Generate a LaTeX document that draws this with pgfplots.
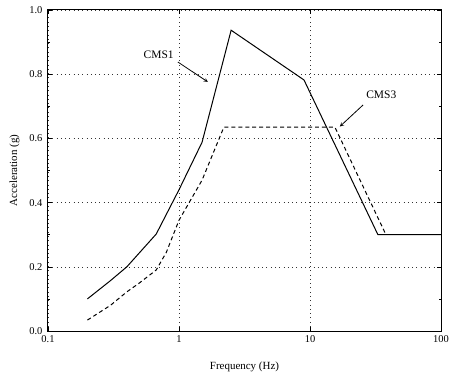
\documentclass[border=0pt]{standalone}
\usepackage{pgfplots}
\pgfplotsset{compat=1.18}
\usepackage{fontspec}
\setmainfont{Liberation Serif}
\begin{document}
\begin{tikzpicture}
\begin{axis}[
  name=ax,
  scale only axis,
  width=393bp, height=321bp,
  xmode=log, log basis x=10,
  xmin=0.1, xmax=100, ymin=0, ymax=1,
  xtick={0.1,1,10,100}, xticklabels={0.1,1,10,100},
  ytick={0,0.2,0.4,0.6,0.8,1.0},
  minor y tick num=1,
  yticklabel style={xshift=-2bp,/pgf/number format/.cd,fixed,fixed zerofill,precision=1},
  /pgf/number format/assume math mode=true,
  tick align=inside,
  major tick length=4bp, minor tick length=2.5bp,
  grid=major,
  major grid style={black!80, line width=0.5pt, dash pattern=on 0.8pt off 3.5pt},
  axis line style={line width=1pt},
  tick style={black, line width=0.6pt},
  ticklabel style={font=\fontsize{10.5}{12}\selectfont},
  label style={font=\fontsize{11}{13}\selectfont},
  xlabel={Frequency (Hz)},
  ylabel={Acceleration (g)},
  xlabel style={yshift=-12bp},
  ylabel style={yshift=3bp},
  xticklabel style={yshift=-1bp},
]
\addplot[black, line width=1pt] coordinates {
(0.2,0.1) (0.3,0.157) (0.4,0.2) (0.67,0.302) (1,0.44) (1.5,0.588) (2.5,0.937) (9,0.782) (33,0.3) (100,0.3)};
\addplot[black, line width=1pt, dash pattern=on 4pt off 3pt] coordinates {
(0.2,0.034) (0.3,0.08) (0.4,0.122) (0.5,0.15) (0.67,0.19) (0.8,0.245) (1,0.345) (1.5,0.47) (2.2,0.635) (15.5,0.635) (38,0.3)};
\node[font=\fontsize{11.5}{13}\selectfont] at (axis cs:0.7,0.86) {CMS1};
\draw[->, >=stealth, line width=0.8pt] (axis cs:0.98,0.838) -- (axis cs:1.66,0.776);
\node[font=\fontsize{11.5}{13}\selectfont] at (axis cs:35,0.735) {CMS3};
\draw[->, >=stealth, line width=0.8pt] (axis cs:25.4,0.704) -- (axis cs:16.9,0.637);
\end{axis}
\pgfresetboundingbox
\path ([xshift=-48bp,yshift=-44bp]ax.south west) rectangle ([xshift=8bp,yshift=10bp]ax.north east);
\end{tikzpicture}
\end{document}
